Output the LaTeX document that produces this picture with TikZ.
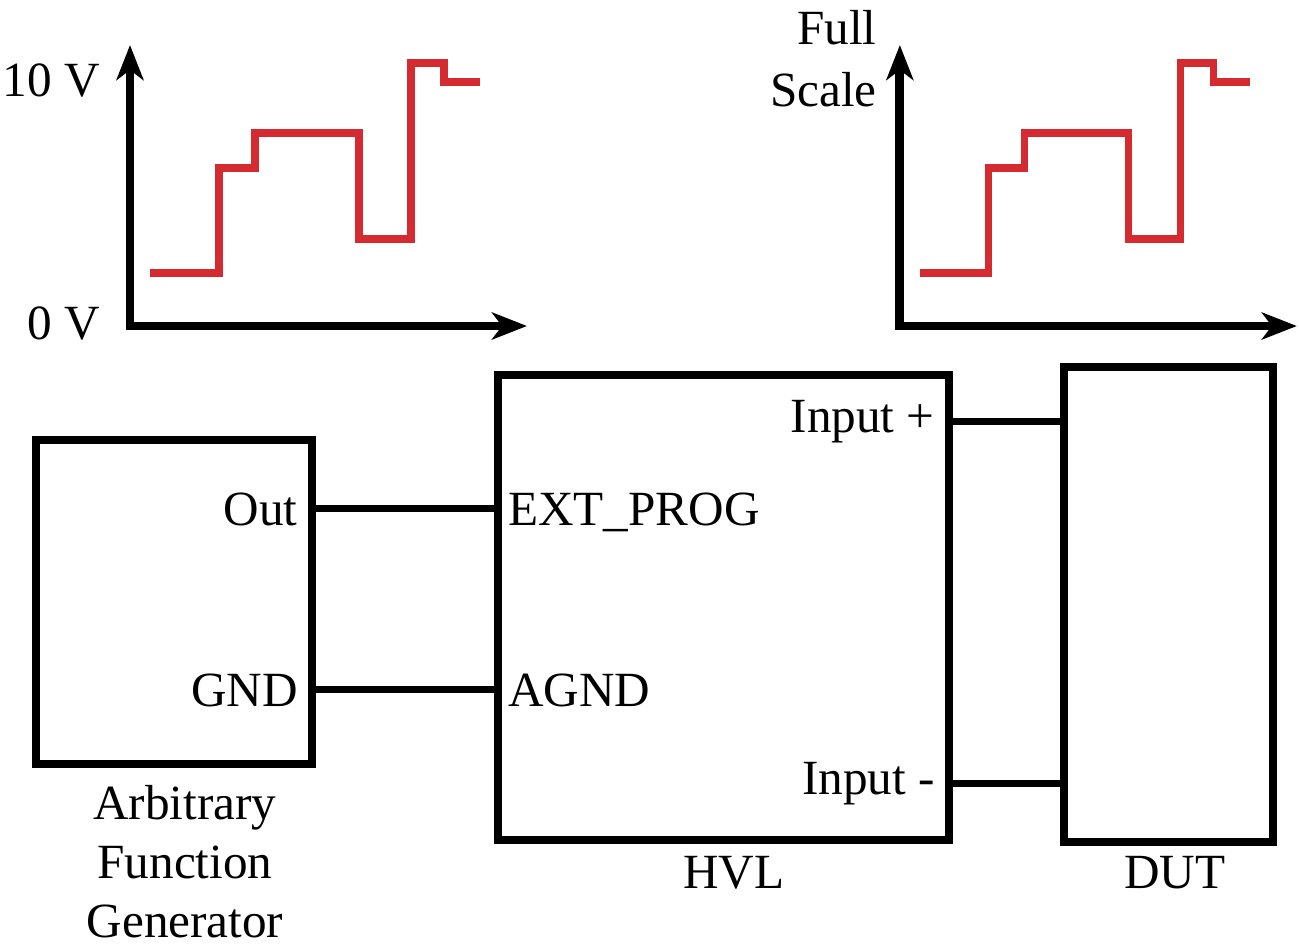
\documentclass[tikz,border=0pt]{standalone}
\usepackage{fontspec}
\setmainfont{Liberation Serif}
\usetikzlibrary{arrows.meta,positioning}
\definecolor{Wave}{HTML}{D42A30}

\begin{document}
\begin{tikzpicture}[x=0.02cm,y=-0.02cm,
    font=\fontsize{28}{33.5}\selectfont,
    box/.style={draw,line width=4.5pt,inner sep=0pt},
    lbl/.style={inner sep=0pt},
    axis/.style={{Stealth[length=7mm,width=5.4mm,inset=2mm]}-{Stealth[length=7mm,width=5.4mm,inset=2mm]},line width=5pt},
    wave/.style={Wave,line width=4pt},
    wire/.style={line width=4pt}
  ]
  \useasboundingbox (0,0) rectangle (1299,947);

  % generator output plot
  \coordinate (o1) at (130,326);
  \draw[axis] (130,45) -- (o1) -- (527,326);
  \draw[wave] (150,273) -| (219,168) -| (255,133) -| (359,239) -| (411,63) -| (444,82) -- (480,82);
  \node[lbl,anchor=base east] (ten) at (100,96) {10 V};
  \node[lbl,anchor=base east] (zero) at (100,339) {0 V};

  % load current plot
  \begin{scope}[xshift=15.4cm]
    \coordinate (o2) at (130,326);
    \draw[axis] (130,45) -- (o2) -- (527,326);
    \draw[wave] (150,273) -| (219,168) -| (255,133) -| (359,239) -| (411,63) -| (444,82) -- (480,82);
  \end{scope}
  \node[lbl,align=right,anchor=base east,font=\fontsize{28}{35}\selectfont] (full) at (877,106) {Full\\Scale};

  % boxes
  \node[box,minimum width=5.52cm,minimum height=6.48cm] (afg) at (174,602) {};
  \node[box,minimum width=9.02cm,minimum height=9.3cm] (hvl) at (723.5,607.5) {};
  \node[box,minimum width=4.18cm,minimum height=9.5cm] (dut) at (1168.5,604.5) {};

  \node[lbl,anchor=base east] (out) at (298,525) {Out};
  \node[lbl,anchor=base east] (gnd) at (298,706) {GND};
  \node[lbl,anchor=base west] (prog) at (508,525) {EXT\_PROG};
  \node[lbl,anchor=base west] (agnd) at (508,706) {AGND};
  \node[lbl,anchor=base east] (inp) at (935,432) {Input +};
  \node[lbl,anchor=base east] (inm) at (935,794) {Input -};

  \node[lbl,align=center,anchor=base] (afgname) at (185,937) {Arbitrary\\Function\\Generator};
  \node[lbl,anchor=base] (hvlname) at (734,888) {HVL};
  \node[lbl,anchor=base] (dutname) at (1175,888) {DUT};

  % wiring
  \draw[wire] (afg.east |- out) -- (hvl.west |- out);
  \draw[wire] (afg.east |- gnd) -- (hvl.west |- gnd);
  \draw[wire] (hvl.east |- inp) -- (dut.west |- inp);
  \draw[wire] (hvl.east |- inm) -- (dut.west |- inm);
\end{tikzpicture}
\end{document}
